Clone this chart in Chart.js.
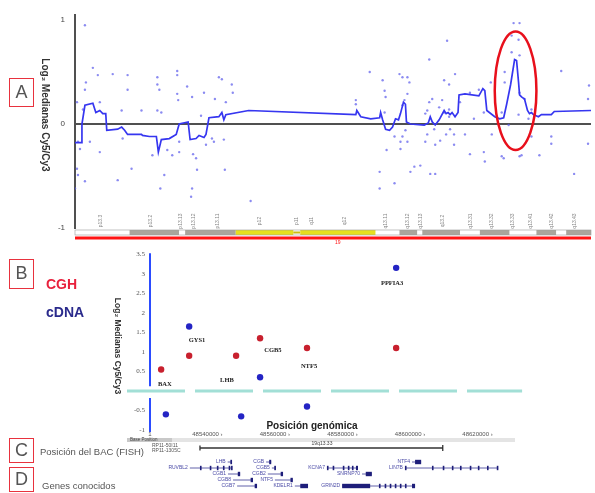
<!DOCTYPE html>
<html>
<head>
<meta charset="utf-8">
<script src="https://cdn.jsdelivr.net/npm/chart.js@4.4.0/dist/chart.umd.min.js"></script>
<style>
body { margin: 0; background: #fff; }
#wrap { position: relative; width: 595px; height: 493px; overflow: hidden; font-family: "Liberation Sans", Arial, sans-serif; }
canvas { position: absolute; left: 0; }
.box { position: absolute; left: 9px; width: 25px; box-sizing: border-box; border: 1.5px solid #e8323e; color: #555; font-size: 18px; text-align: center; }
.txt { position: absolute; white-space: nowrap; }
</style>
</head>
<body>
<div id="wrap">
  <canvas id="chartA" width="595" height="245" style="top:0"></canvas>
  <canvas id="chartB" width="595" height="248" style="top:245px"></canvas>
  <div class="box" style="top:78px;height:29px;line-height:26px">A</div>
  <div class="box" style="top:259px;height:30px;line-height:27px">B</div>
  <div class="box" style="top:438px;height:25px;line-height:22px">C</div>
  <div class="box" style="top:467px;height:25px;line-height:22px">D</div>
  <div class="txt" style="left:46px;top:276px;font-size:14px;font-weight:bold;color:#e8203c">CGH</div>
  <div class="txt" style="left:46px;top:304px;font-size:14px;font-weight:bold;color:#2a2a8c">cDNA</div>
  <div class="txt" style="left:40px;top:446px;font-size:9.5px;color:#555">Posición del BAC (FISH)</div>
  <div class="txt" style="left:42px;top:480px;font-size:9.5px;color:#555">Genes conocidos</div>
</div>
<script>
// ---- panel A: array CGH along chromosome 19 (map units) ----
const dotPos = [10,18,23,11,10,2,8,25,3,15,25,2,3,10,0,38,53,53,47,67,57,43,48,83,83,85,83,87,78,93,90,86,103,103,113,103,104,118,105,119,122,123,117,118,130,141,145,148,158,159,152,127,138,140,132,150,151,177,98,105,5,
  297,283,283,310,312,313,312,327,330,335,337,335,332,330,333,335,330,328,322,314,328,307,307,322,342,348,338,358,363,357,357,353,360,355,353,363,362,375,372,383,377,367,372,377,374,378,382,382,377,393,398,413,420,430,433,430,442,448,440,447,440,448,433,448,453,447,457,437,460,448,468,480,480,490,503,517,517,518,412,460,
  355,370,368,419,412,402,398,388,407,432,450];
const dotVal = [0.95,0.54,0.47,0.40,0.33,0.21,0.14,0.21,-0.17,-0.17,-0.27,-0.43,-0.49,-0.55,-0.62,0.48,0.47,0.33,0.13,0.13,-0.43,-0.54,-0.14,0.45,0.38,0.33,0.13,0.11,-0.30,-0.25,-0.49,-0.62,0.51,0.47,0.36,0.29,0.23,0.26,-0.17,-0.29,-0.33,-0.44,-0.70,-0.62,0.30,0.24,0.45,0.43,0.38,0.30,0.21,0.08,-0.14,-0.17,-0.20,-0.15,-0.44,-0.74,-0.30,-0.27,-0.24,
  0.50,0.23,0.19,0.42,0.32,0.26,0.11,0.48,0.45,0.45,0.40,0.29,0.23,0.18,-0.06,-0.17,-0.12,-0.17,-0.12,-0.25,-0.24,-0.46,-0.62,-0.57,-0.41,-0.40,-0.46,-0.48,-0.48,0.62,0.21,0.10,0.24,-0.10,-0.17,-0.20,-0.05,0.80,0.42,0.48,0.38,0.16,0.11,0.14,-0.10,-0.05,-0.10,-0.20,0.07,-0.10,-0.29,-0.36,-0.10,0.11,0.50,-0.31,0.97,0.97,0.85,0.81,0.69,0.66,0.40,0.30,0.24,0.09,0.05,-0.01,-0.12,-0.31,-0.30,-0.12,-0.19,0.51,-0.48,0.24,-0.19,0.37,-0.27,0.14,
  0.13,0.23,-0.16,0.40,0.11,0.05,0.30,0.21,0.33,-0.33,-0.30];

// segmented (smoothed) profile
const segPos = [0,7,7,10,18,21,25,28,31,32,43,47,50,53,67,68,75,82,84,87,95,102,105,114,116,122,125,130,132,135,145,148,150,152,175,283,284,288,298,307,308,310,313,317,320,323,326,328,331,333,334,338,352,356,358,360,363,367,372,374,376,378,380,383,386,387,393,407,411,413,415,423,428,432,435,439,441,443,445,447,448,450,453,456,458,460,462,467,470,480,483,520];
const segVal = [-0.18,-0.18,0,0.18,0.20,0.11,0.13,0.10,0.10,-0.06,-0.05,-0.03,-0.06,-0.10,-0.10,-0.11,-0.12,-0.12,-0.27,-0.15,-0.14,-0.10,0,0.02,-0.15,-0.14,-0.11,-0.13,-0.10,0.06,0.07,0.11,0.04,0.09,0.13,0.09,0.13,0.07,0.05,0.06,0.11,0.04,-0.05,-0.06,-0.03,0.05,0.04,0.10,0.21,0.19,0.02,0,-0.01,0.01,0.07,0.02,-0.01,0.04,0.13,0.10,0.11,0.09,0.11,0.07,0.11,0.28,0.29,0.27,0.34,0.32,0.13,0.07,0.05,0.06,0.19,0.38,0.50,0.62,0.61,0.40,0.28,0.26,0.24,0.13,0.10,0.11,0.09,0.07,0.09,0.09,0.12,0.13];

const yTicksA = [-1, 0, 1];

// ideogram of chr19
const bandStart = [0,55,105,111,162,220,227,303,327,345,350,388,408,438,465,485,495];
const bandEnd = [55,105,111,162,220,227,303,327,345,350,388,408,438,465,485,495,520];
const bandStain = ['gneg','gpos','gneg','gpos','gvar','acen','gvar','gneg','gpos','gneg','gpos','gneg','gpos','gneg','gpos','gneg','gpos'];
const bandName = ['p13.3','p13.2','p13.13','p13.12','p13.11','p12','p11','q11','q12','q13.11','q13.12','q13.13','q13.2','q13.31','q13.32','q13.33','q13.41','q13.42','q13.43'];
const bandLabelPos = [26,76,106,120,144,186,223,238,272,313,335,348,370,399,420,441,459,480,503];

// circled amplicon
const peakPos = 444;
const peakVal = 0.32;

// ---- panel B: genes in 19q13.33 ----
const genes = ['BAX', 'GYS1', 'LHB', 'CGB5', 'NTF5', 'PPFIA3'];
const cghPos = [48526300, 48534600, 48548500, 48555600, 48569500, 48595900];
const cghVal = [0.55, 0.9, 0.9, 1.35, 1.1, 1.1];
const cdnaPos = [48527700, 48534600, 48550000, 48555600, 48569500, 48595900];
const cdnaVal = [-0.6, 1.65, -0.65, 0.35, -0.4, 3.15];
const labelPos = [48527400, 48536900, 48545800, 48559400, 48570100, 48594700];
const labelVal = [0.18, 1.29, 0.26, 1.03, 0.63, 2.76];
const xTicksB = [48523000, 48540000, 48560000, 48580000, 48600000, 48620000];
const yTicksB = [-1, -0.5, 0.5, 1, 1.5, 2, 2.5, 3, 3.5];

// BAC clone used for FISH
const bacName = ['RP11-50I11', 'RP11-1305C'];
const bacStart = 48537800;
const bacEnd = 48609700;

// known genes track
const trackName = ['LHB','CGB','NTF4','RUVBL2','CGB5','KCNA7','LIN7B','CGB1','CGB2','SNRNP70','CGB8','NTF5','CGB7','KDELR1','GRIN2D'];
const trackRow = [0,0,0,1,1,1,1,2,2,2,3,3,4,4,4];
const trackStart = [48546000,48557400,48600600,48534800,48559100,48575400,48598500,48546100,48557900,48585800,48547600,48560000,48548800,48565900,48579900];
const trackEnd = [48547300,48558900,48603300,48547300,48560300,48584600,48626100,48549700,48562400,48588700,48553500,48565300,48554700,48569800,48601500];
const trackExons = [
  [[48546800,48547300]],
  [[48558300,48558900]],
  [[48601500,48603300]],
  [[48537800,48538100],[48540700,48541100],[48542800,48543200],[48544600,48545000],[48546300,48546700],[48547000,48547300]],
  [[48559800,48560300]],
  [[48575400,48575800],[48577100,48577500],[48580100,48580500],[48581600,48582000],[48582800,48583200],[48584000,48584600]],
  [[48598500,48598900],[48606500,48606900],[48609700,48610100],[48612400,48612800],[48614800,48615200],[48617700,48618100],[48620100,48620500],[48622800,48623200],[48625700,48626100]],
  [[48549000,48549700]],
  [[48561700,48562400]],
  [[48586900,48588700]],
  [[48552800,48553500]],
  [[48564600,48565300]],
  [[48554000,48554700]],
  [[48567500,48569800]],
  [[48579900,48588200],[48590800,48591200],[48592500,48592900],[48594000,48594400],[48595500,48595900],[48597000,48597400],[48598500,48598900],[48600600,48601500]]
];

const stainColor = { gneg: '#ffffff', gpos: '#aaa59c', gvar: '#e6df1e', acen: '#c9bb14' };

function yTitle(ctx, text, cx, cy, size) {
  ctx.save();
  ctx.translate(cx, cy);
  ctx.rotate(Math.PI / 2);
  ctx.font = 'bold ' + size + 'px "Liberation Sans"';
  ctx.fillStyle = '#333';
  ctx.textAlign = 'center';
  ctx.textBaseline = 'middle';
  ctx.fillText(text, 0, 0);
  ctx.restore();
}

const panelA = {
  id: 'panelA',
  afterDraw(chart) {
    const { ctx, chartArea: a, scales: { x, y } } = chart;
    ctx.save();
    // ideogram
    for (let i = 0; i < bandStart.length; i++) {
      const x0 = x.getPixelForValue(bandStart[i]);
      const x1 = x.getPixelForValue(bandEnd[i]);
      ctx.fillStyle = stainColor[bandStain[i]];
      if (bandStain[i] === 'acen') ctx.fillRect(x0, 231.5, x1 - x0, 2);
      else ctx.fillRect(x0, 230, x1 - x0, 5);
    }
    ctx.strokeStyle = '#9a9a9a';
    ctx.lineWidth = 0.6;
    ctx.strokeRect(a.left, 230, a.right - a.left, 5);
    // red bar under the chromosome
    ctx.fillStyle = '#ff1414';
    ctx.fillRect(a.left, 236.5, a.right - a.left, 3);
    ctx.font = '5px "Liberation Sans"';
    ctx.fillText('19', x.getPixelForValue(262), 244);
    // band names
    ctx.fillStyle = '#888';
    ctx.textAlign = 'center';
    ctx.textBaseline = 'middle';
    bandName.forEach((n, i) => {
      ctx.save();
      ctx.translate(x.getPixelForValue(bandLabelPos[i]), 221);
      ctx.rotate(-Math.PI / 2);
      ctx.fillText(n, 0, 0);
      ctx.restore();
    });
    // circle around the amplified peak
    const px = x.getPixelForValue(peakPos);
    const py = y.getPixelForValue(peakVal);
    const rx = x.getPixelForValue(peakPos + 21) - px;
    const ry = py - y.getPixelForValue(peakVal + 0.57);
    ctx.beginPath();
    ctx.ellipse(px, py, rx, ry, 0, 0, Math.PI * 2);
    ctx.strokeStyle = '#e8101c';
    ctx.lineWidth = 2.5;
    ctx.stroke();
    ctx.restore();
    yTitle(ctx, 'Log\u2082 Medianas Cy5/Cy3', 45, 115, 10);
  }
};

new Chart(document.getElementById('chartA'), {
  type: 'scatter',
  data: {
    datasets: [
      {
        type: 'line',
        data: segPos.map((p, i) => ({ x: p, y: segVal[i] })),
        borderColor: '#3636f0',
        borderWidth: 1.7,
        pointRadius: 0,
        tension: 0,
        fill: false,
        order: 0,
      },
      {
        data: dotPos.map((p, i) => ({ x: p, y: dotVal[i] })),
        pointRadius: 1.2,
        backgroundColor: 'rgba(90, 90, 235, 0.7)',
        borderWidth: 0,
        order: 1,
      },
    ],
  },
  options: {
    responsive: false,
    animation: false,
    events: [],
    layout: { padding: { top: 12, bottom: 17, left: 0, right: 0 } },
    plugins: { legend: { display: false }, tooltip: { enabled: false } },
    scales: {
      x: { type: 'linear', min: 0, max: 520, display: false },
      y: {
        min: -1,
        max: 1.05,
        afterFit(s) { s.width = 75; },
        afterBuildTicks(s) { s.ticks = yTicksA.map((v) => ({ value: v })); },
        grid: {
          drawTicks: false,
          color: (c) => (c.tick && c.tick.value === 0 ? '#505050' : 'rgba(0,0,0,0)'),
          lineWidth: 2,
        },
        border: { color: '#505050', width: 2 },
        ticks: { padding: 10, font: { size: 8, family: 'Liberation Sans' }, color: '#444' },
      },
    },
  },
  plugins: [panelA],
});

const panelB = {
  id: 'panelB',
  beforeDatasetsDraw(chart) {
    const { ctx, chartArea: a, scales: { x, y } } = chart;
    ctx.save();
    // zero line, dashed teal
    const y0 = y.getPixelForValue(0);
    ctx.strokeStyle = '#a2dfd6';
    ctx.lineWidth = 3;
    ctx.setLineDash([58, 10]);
    ctx.beginPath();
    ctx.moveTo(a.left - 23, y0);
    ctx.lineTo(x.getPixelForValue(48633200), y0);
    ctx.stroke();
    ctx.setLineDash([]);
    // blue y axis, broken at zero
    ctx.strokeStyle = '#2b4cff';
    ctx.lineWidth = 2;
    ctx.beginPath();
    ctx.moveTo(a.left, a.top - 1);
    ctx.lineTo(a.left, y.getPixelForValue(0.12));
    ctx.moveTo(a.left, y.getPixelForValue(-0.18));
    ctx.lineTo(a.left, a.bottom + 2);
    ctx.stroke();
    ctx.restore();
  },
  afterDraw(chart) {
    const { ctx, chartArea: a, scales: { x, y } } = chart;
    ctx.save();
    // gene names next to the points
    ctx.font = 'bold 6.5px "Liberation Serif"';
    ctx.fillStyle = '#222';
    ctx.textAlign = 'center';
    ctx.textBaseline = 'middle';
    genes.forEach((g, i) => {
      ctx.fillText(g, x.getPixelForValue(labelPos[i]), y.getPixelForValue(labelVal[i]));
    });
    // x title
    ctx.font = 'bold 10px "Liberation Sans"';
    ctx.fillText('Posición genómica', a.left + 162, a.bottom - 4);
    // base position ruler band
    ctx.fillStyle = '#e4e4e4';
    ctx.fillRect(a.left - 23, a.bottom + 8, 388, 4);
    ctx.fillStyle = '#c8c8c8';
    ctx.fillRect(a.left - 23, a.bottom + 8, 45, 4);
    ctx.font = '4.5px "Liberation Sans"';
    ctx.fillStyle = '#444';
    ctx.textAlign = 'left';
    ctx.fillText('Base Position', a.left - 20, a.bottom + 10);
    ctx.textAlign = 'center';
    ctx.font = '5px "Liberation Sans"';
    ctx.fillText('19q13.33', a.left + 172, a.bottom + 14);
    // BAC clone
    const by = a.bottom + 18;
    const b0 = x.getPixelForValue(bacStart);
    const b1 = x.getPixelForValue(bacEnd);
    ctx.strokeStyle = '#333';
    ctx.lineWidth = 1.3;
    ctx.beginPath();
    ctx.moveTo(b0, by);
    ctx.lineTo(b1, by);
    ctx.moveTo(b0, by - 2.5);
    ctx.lineTo(b0, by + 2.5);
    ctx.moveTo(b1, by - 3);
    ctx.lineTo(b1, by + 3);
    ctx.stroke();
    ctx.textAlign = 'left';
    ctx.fillStyle = '#555';
    ctx.fillText(bacName[0], a.left + 2, by - 2.5);
    ctx.fillText(bacName[1], a.left + 2, by + 2.5);
    // known genes
    const top = a.bottom + 32;
    ctx.textAlign = 'right';
    for (let i = 0; i < trackName.length; i++) {
      const gy = top + trackRow[i] * 6;
      const g0 = x.getPixelForValue(trackStart[i]);
      const g1 = x.getPixelForValue(trackEnd[i]);
      ctx.fillStyle = '#4a4aa6';
      ctx.fillText(trackName[i], g0 - 2, gy);
      ctx.strokeStyle = '#3a3a96';
      ctx.lineWidth = 0.8;
      ctx.beginPath();
      ctx.moveTo(g0, gy);
      ctx.lineTo(g1, gy);
      ctx.stroke();
      ctx.fillStyle = '#1e1e7a';
      trackExons[i].forEach(([s, e]) => {
        const e0 = x.getPixelForValue(s);
        const w = Math.max(1.6, x.getPixelForValue(e) - e0);
        ctx.fillRect(e0, gy - 2.2, w, 4.4);
      });
    }
    ctx.restore();
    yTitle(ctx, 'Log\u2082 Medianas Cy5/Cy3', 117, 101, 8.5);
  }
};

new Chart(document.getElementById('chartB'), {
  type: 'scatter',
  data: {
    datasets: [
      {
        label: 'CGH',
        data: cghPos.map((p, i) => ({ x: p, y: cghVal[i] })),
        backgroundColor: '#c8202e',
        pointRadius: 3.2,
        borderWidth: 0,
      },
      {
        label: 'cDNA',
        data: cdnaPos.map((p, i) => ({ x: p, y: cdnaVal[i] })),
        backgroundColor: '#2424c4',
        pointRadius: 3.2,
        borderWidth: 0,
      },
    ],
  },
  options: {
    responsive: false,
    animation: false,
    events: [],
    layout: { padding: { top: 9, bottom: 51, left: 0, right: 55 } },
    plugins: { legend: { display: false }, tooltip: { enabled: false } },
    scales: {
      x: {
        type: 'linear',
        min: 48523000,
        max: 48638500,
        afterFit(s) { s.height = 12; },
        afterBuildTicks(s) { s.ticks = xTicksB.map((v) => ({ value: v })); },
        grid: { display: false, drawTicks: false },
        border: { display: false },
        ticks: {
          padding: 1,
          maxRotation: 0,
          autoSkip: false,
          font: { size: 6, family: 'Liberation Sans' },
          color: '#555',
          callback: (v) => (v === xTicksB[0] ? '1' : v + ' \u203a'),
        },
      },
      y: {
        min: -1,
        max: 3.5,
        afterFit(s) { s.width = 150; },
        afterBuildTicks(s) { s.ticks = yTicksB.map((v) => ({ value: v })); },
        grid: { display: false, drawTicks: false },
        border: { display: false },
        ticks: { padding: 5, font: { size: 7, family: 'Liberation Serif' }, color: '#555' },
      },
    },
  },
  plugins: [panelB],
});
</script>
</body>
</html>
